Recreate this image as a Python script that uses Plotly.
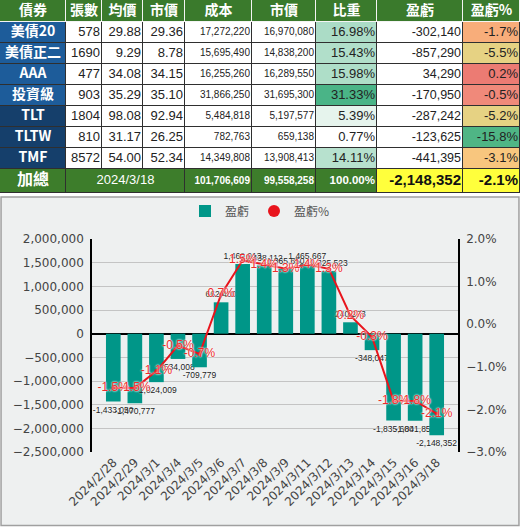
import plotly.graph_objects as go

# ---- holdings table ----
bonds = ["美債20", "美債正二", "AAA", "投資級", "TLT", "TLTW", "TMF"]
lots = [578, 1690, 477, 903, 1804, 810, 8572]
avg_price = [29.88, 9.29, 34.08, 35.29, 98.08, 31.17, 54.00]
mkt_price = [29.36, 8.78, 34.15, 35.10, 92.94, 26.25, 52.34]
cost = [17272220, 15695490, 16255260, 31866250, 5484818, 782763, 14349808]
mkt_value = [16970080, 14838200, 16289550, 31695300, 5197577, 659138, 13908413]
weight = [16.98, 15.43, 15.98, 31.33, 5.39, 0.77, 14.11]
pnl = [-302140, -857290, 34290, -170950, -287242, -123625, -441395]
pnl_pct = [-1.7, -5.5, 0.2, -0.5, -5.2, -15.8, -3.1]
headers = ["債券", "張數", "均價", "市價", "成本", "市價", "比重", "盈虧", "盈虧%"]

total_label = "加總"
total_date = "2024/3/18"
total_weight = 100.00
total_pct = -2.1

# ---- daily P/L chart ----
dates = ["2024/2/28", "2024/2/29", "2024/3/1", "2024/3/4", "2024/3/5", "2024/3/6",
         "2024/3/7", "2024/3/8", "2024/3/9", "2024/3/11", "2024/3/12", "2024/3/13",
         "2024/3/14", "2024/3/15", "2024/3/16", "2024/3/18"]
daily_pnl = [-1433050, -1470777, -1024009, -534008, -709779, 662400,
             1469913, 1438112, 1365650, 1465667, 1325523, 240273,
             -348047, -1835600, -1841852, -2148352]
daily_pct = [-1.5, -1.5, -1.1, -0.5, -0.7, 0.7, 1.5, 1.4, 1.3, 1.4, 1.3, 0.2,
             -0.3, -1.8, -1.8, -2.1]

# colours
HEAD_GREEN = "#3a7a2c"
TOTAL_GREEN = "#3d7d2b"
YELLOW = "#ffff3c"
WHITE = "#ffffff"
TEAL = "#009688"
RED = "#e8141c"
blue_fill = ["#1d5c9a"] * 4 + ["#153f6b"] * 3
weight_fill = ["#abdcc6", "#b1dfca", "#aedec8", "#4ab487", "#e6f4ed", "#ffffff", "#b7e1ce"]
pct_fill = ["#f8ad7a", "#e6d283", "#ec7b73", "#f0897a", "#e6d283", "#4fb585", "#f8c67e"]

NUM = "Liberation Sans, Arial, Noto Sans CJK TC"
CJK = "Noto Sans CJK TC, Liberation Sans"

# table geometry (pixel units on a hidden axis pair)
col_w = [66, 36, 41, 42, 67, 64, 61, 86, 57]
tot_w = [66, 119, 67, 64, 61, 86, 57]
row_h = [22] + [21] * len(bonds)
tot_h = 24


def cum(ws, start=0):
    out = [start]
    for w in ws:
        out.append(out[-1] + w)
    return out


xe = cum(col_w)
txe = cum(tot_w)
ye = cum(row_h)
tye = [ye[-1], ye[-1] + tot_h]
TABLE_H = tye[-1]

# cell fills
grid_fill = [[HEAD_GREEN] * len(headers)]
for i in range(len(bonds)):
    grid_fill.append([blue_fill[i], WHITE, WHITE, WHITE, WHITE, WHITE,
                      weight_fill[i], WHITE, pct_fill[i]])
tot_fill = [TOTAL_GREEN] * 5 + [YELLOW] * 2

palette = []
for c in [c for r in grid_fill for c in r] + tot_fill:
    if c not in palette:
        palette.append(c)
k = len(palette)
cscale = []
for i, c in enumerate(palette):
    cscale += [[i / k, c], [(i + 1) / k, c]]

fig = go.Figure()

# border colour underneath (white for header, dark for body)
fig.add_trace(go.Heatmap(
    x=[0, xe[-1]], y=[0, ye[1], TABLE_H], z=[[0], [1]],
    colorscale=[[0, "#f4f4f4"], [1, "#2f2f2f"]], showscale=False,
    hoverinfo="skip", xaxis="x3", yaxis="y3",
))
fig.add_trace(go.Heatmap(
    x=xe, y=ye, z=[[palette.index(c) + 0.5 for c in r] for r in grid_fill],
    zmin=0, zmax=k, colorscale=cscale, showscale=False, xgap=1, ygap=1,
    hoverinfo="skip", xaxis="x3", yaxis="y3",
))
fig.add_trace(go.Heatmap(
    x=txe, y=tye, z=[[palette.index(c) + 0.5 for c in tot_fill]],
    zmin=0, zmax=k, colorscale=cscale, showscale=False, xgap=1, ygap=1,
    hoverinfo="skip", xaxis="x3", yaxis="y3",
))

# table text
tx, ty, tt, tp, ts, tc, tf = [], [], [], [], [], [], []


def put(x, y, text, pos, size, color, fam):
    tx.append(x); ty.append(y); tt.append(text); tp.append(pos)
    ts.append(size); tc.append(color); tf.append(fam)


hy = (ye[0] + ye[1]) / 2
for j, h in enumerate(headers):
    put((xe[j] + xe[j + 1]) / 2, hy, f"<b>{h}</b>", "middle center", 14, WHITE, CJK)

body_cols = [
    [f"{v}" for v in lots],
    [f"{v:.2f}" for v in avg_price],
    [f"{v:.2f}" for v in mkt_price],
    [f"{v:,}" for v in cost],
    [f"{v:,}" for v in mkt_value],
    [f"{v:.2f}%" for v in weight],
    [f"{v:,}" for v in pnl],
    [f"{v:.1f}%" for v in pnl_pct],
]
body_size = [13, 13, 13, 10, 10, 13, 12.5, 13]
for i, b in enumerate(bonds):
    cy = (ye[i + 1] + ye[i + 2]) / 2
    put((xe[0] + xe[1]) / 2, cy, f"<b>{b}</b>", "middle center", 14, WHITE, CJK)
    for j, col in enumerate(body_cols):
        put(xe[j + 2] - 2, cy, col[i], "middle left", body_size[j], "#222222", NUM)

cy = (tye[0] + tye[1]) / 2
put((txe[0] + txe[1]) / 2, cy, f"<b>{total_label}</b>", "middle center", 16, WHITE, CJK)
put((txe[1] + txe[2]) / 2, cy, total_date, "middle center", 13, WHITE, NUM)
put(txe[3] - 2, cy, f"<b>{sum(cost):,}</b>", "middle left", 10, WHITE, NUM)
put(txe[4] - 2, cy, f"<b>{sum(mkt_value):,}</b>", "middle left", 10, WHITE, NUM)
put(txe[5] - 2, cy, f"<b>{total_weight:.2f}%</b>", "middle left", 11.5, WHITE, NUM)
put(txe[6] - 2, cy, f"<b>{sum(pnl):,}</b>", "middle left", 15, "#111111", NUM)
put(txe[7] - 2, cy, f"<b>{total_pct:.1f}%</b>", "middle left", 15, "#111111", NUM)

fig.add_trace(go.Scatter(
    x=tx, y=ty, text=tt, mode="text", textposition=tp,
    textfont=dict(size=ts, color=tc, family=tf),
    showlegend=False, hoverinfo="skip", cliponaxis=False,
    xaxis="x3", yaxis="y3",
))

# ---- chart ----
fig.add_trace(go.Bar(
    x=dates, y=daily_pnl, name="盈虧",
    marker=dict(color=TEAL, line=dict(width=0)),
    texttemplate="%{y:,.0f}", textposition="outside",
    textfont=dict(family=NUM, size=8.5, color="#222222", shadow="0 0 2px #ffffff"),
    constraintext="none", cliponaxis=False,
    xaxis="x", yaxis="y",
))

fig.add_trace(go.Scatter(
    x=dates, y=daily_pct, mode="lines", showlegend=False,
    line=dict(color=RED, width=2), xaxis="x", yaxis="y2", hoverinfo="skip",
))

fig.add_trace(go.Scatter(
    x=dates, y=daily_pct, name="盈虧%", mode="markers+text",
    marker=dict(color=RED, size=4),
    text=[f"{v:.1f}%" for v in daily_pct], textposition="middle center",
    textfont=dict(family=NUM, size=12, color="#ee2b2b",
                  shadow="0 0 2px #ffffff, 0 0 2px #ffffff"),
    cliponaxis=False, xaxis="x", yaxis="y2",
))

axis_font = dict(family="DejaVu Sans", size=12, color="#444444")
H = 527

fig.update_layout(
    width=520, height=H,
    margin=dict(l=0, r=0, t=0, b=0, autoexpand=False),
    paper_bgcolor="#ffffff",
    plot_bgcolor="rgba(0,0,0,0)",
    bargap=0.32,
    showlegend=True,
    legend=dict(orientation="h", x=0.5, xanchor="center", y=(H - 211) / H,
                yanchor="middle",
                font=dict(family=CJK, size=12, color="#555555"),
                itemsizing="constant", bgcolor="rgba(0,0,0,0)"),
    xaxis=dict(domain=[92 / 520, 458 / 520], anchor="y", type="category",
               tickangle=-45, tickfont=axis_font, showgrid=False,
               showline=False, ticks="", automargin=False),
    yaxis=dict(domain=[(H - 452) / H, (H - 239) / H], range=[-2500000, 2000000],
               dtick=500000, tickformat=",", tickfont=axis_font, gridcolor="#c4c4c4",
               zeroline=True, zerolinecolor="#000000", zerolinewidth=1.5,
               showline=True, linecolor="#000000", linewidth=1.5, ticks="",
               ticklabelstandoff=4, automargin=False),
    yaxis2=dict(overlaying="y", side="right", anchor="x", range=[-3, 2], dtick=1,
                tickformat=".1f", ticksuffix="%", tickfont=axis_font,
                showgrid=False, zeroline=False, showline=True,
                linecolor="#000000", linewidth=1.5, ticks="",
                ticklabelstandoff=4, automargin=False),
    xaxis3=dict(domain=[0, 1], range=[0, xe[-1]], visible=False, fixedrange=True,
                anchor="y3"),
    yaxis3=dict(domain=[(H - TABLE_H) / H, 1], range=[TABLE_H, 0], visible=False,
                fixedrange=True, anchor="x3"),
    shapes=[dict(type="rect", xref="paper", yref="paper", x0=0.002, x1=0.998,
                 y0=0.003, y1=(H - 197) / H, line=dict(color="#a0a0a0", width=1.5),
                 fillcolor="#eef0f0", layer="below")],
)

# the page body has a default 8px margin; drop it so the figure fills the window
fig.write_html("out.html", config={"displayModeBar": False},
               post_script="document.body.style.margin='0';")
